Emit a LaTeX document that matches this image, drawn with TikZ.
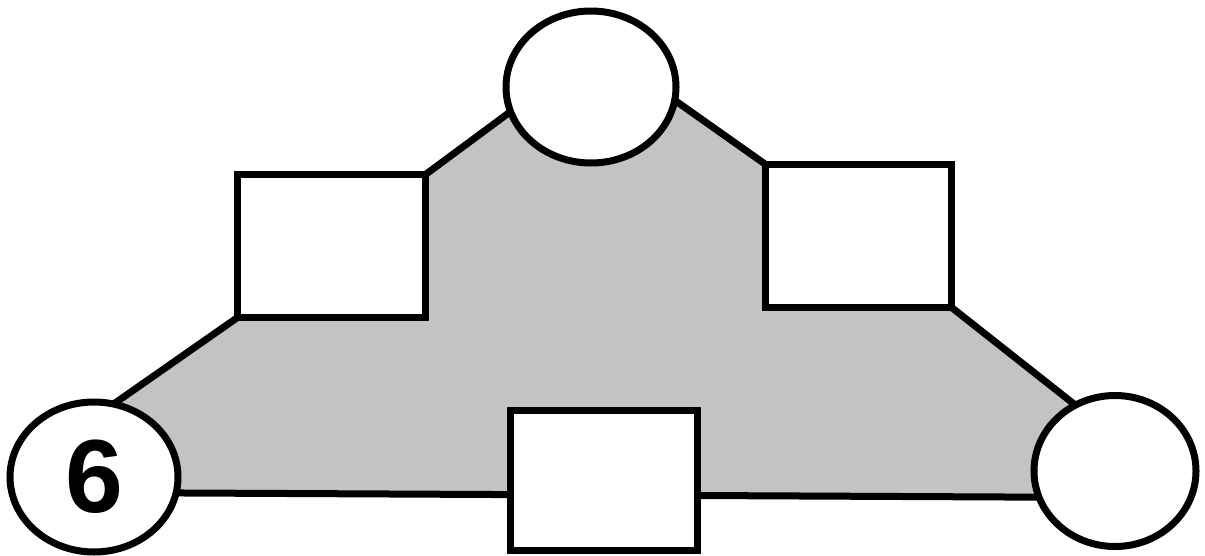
\documentclass[tikz,border=0pt]{standalone}
\usepackage{fontspec}
\setmainfont{Liberation Sans}
\usetikzlibrary{shapes.geometric,backgrounds}
\definecolor{areagray}{RGB}{195,195,195}
\tikzset{
  every node/.style={draw=black,line width=7pt,fill=white,inner sep=0pt,outer sep=0pt},
  oval/.style={ellipse},
  sq/.style={rectangle},
  link/.style={line width=7pt,line join=miter},
}
\begin{document}
\begin{tikzpicture}[x=1pt,y=-1pt]
\useasboundingbox (0,0) rectangle (1205,555);
\node[oval,minimum width=170pt,minimum height=152pt] (tc) at (591,87) {};
\node[oval,minimum width=168pt,minimum height=150pt] (lc) at (94,477) {\fontsize{104}{104}\selectfont\bfseries 6};
\node[oval,minimum width=162pt,minimum height=151pt] (rc) at (1115,471) {};
\node[sq,minimum width=188pt,minimum height=143pt] (lb) at (331.5,246) {};
\node[sq,minimum width=186pt,minimum height=143pt] (rb) at (858,235.5) {};
\node[sq,minimum width=187pt,minimum height=140pt] (bb) at (604,480.5) {};
\begin{scope}[on background layer]
\fill[areagray] (lc.75) -- (lb.south west) -- (lb.north east) -- (tc.197) -- (tc.351)
  -- (rb.north west) -- (rb.south east) -- (rc.121) -- (rc.199) -- (lc.-11) -- cycle;
\draw[link] (lc.75) -- (lb.south west);
\draw[link] (lb.north east) -- (tc.197);
\draw[link] (tc.351) -- (rb.north west);
\draw[link] (rb.south east) -- (rc.121);
\draw[link] (lc.-11) -- (rc.199);
\end{scope}
\end{tikzpicture}
\end{document}
